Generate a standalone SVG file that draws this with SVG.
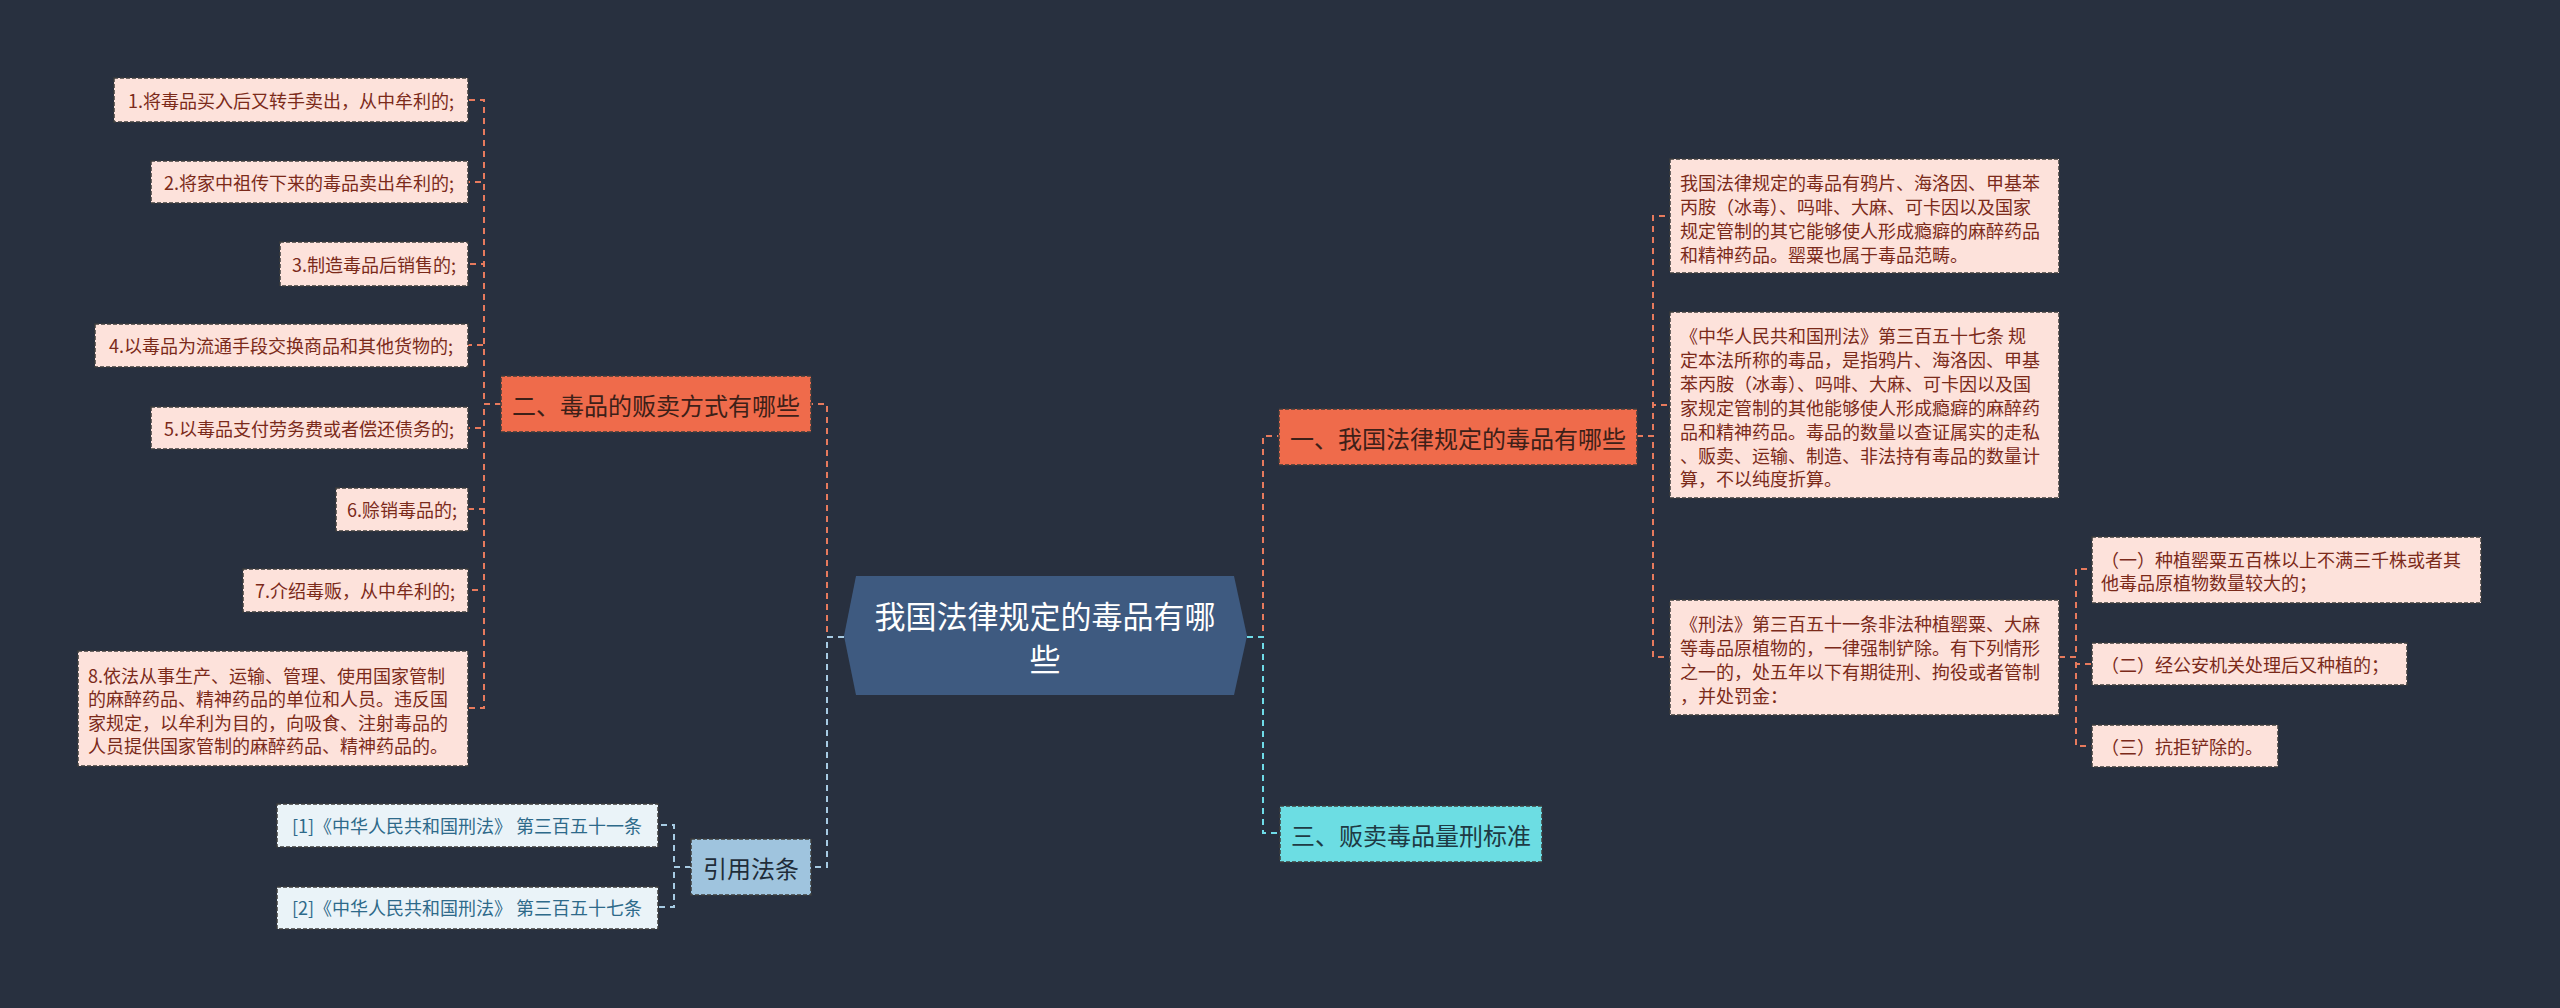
<svg xmlns="http://www.w3.org/2000/svg" width="2560" height="1008" viewBox="0 0 2560 1008">
<style>
text{font-family:"Noto Sans CJK SC","Noto Sans",sans-serif;dominant-baseline:central}
.leaf rect{fill:#fde2db;stroke:#3c3c3c;stroke-width:1.5;stroke-dasharray:4 2}
.leaf text{font-size:18px;fill:#7b2a1a}
.cit rect{fill:#eaf3f8;stroke:#3c3c3c;stroke-width:1.5;stroke-dasharray:4 2}
.cit text{font-size:18px;fill:#2e6a8a;text-anchor:middle}
.hub rect{stroke:#3c3c3c;stroke-width:1.5;stroke-dasharray:4 2}
.hub text{font-size:24px;text-anchor:middle}
.mid{text-anchor:middle}
.con path{fill:none;stroke-width:2;stroke-dasharray:6 5}
.o{stroke:#e77a5d}
.b{stroke:#a7cbe3}
.c{stroke:#6fdbe8}
</style>
<rect width="2560" height="1008" fill="#28303f"/>
<g id="connectors" class="con">
<path class="o" d="M844,637 H827 V404 H811"/>
<path class="b" d="M844,637 H827 V867 H811"/>
<path class="o" d="M501,404 H484 V100 H468"/>
<path class="o" d="M501,404 H484 V182 H468"/>
<path class="o" d="M501,404 H484 V264 H468"/>
<path class="o" d="M501,404 H484 V345 H468"/>
<path class="o" d="M501,404 H484 V428 H468"/>
<path class="o" d="M501,404 H484 V509 H468"/>
<path class="o" d="M501,404 H484 V590 H468"/>
<path class="o" d="M501,404 H484 V708 H468"/>
<path class="b" d="M691,867 H674 V825 H658"/>
<path class="b" d="M691,867 H674 V907 H658"/>
<path class="o" d="M1247,637 H1263 V436 H1279"/>
<path class="c" d="M1247,637 H1263 V833 H1280"/>
<path class="o" d="M1637,436 H1653 V216 H1670"/>
<path class="o" d="M1637,436 H1653 V405 H1670"/>
<path class="o" d="M1637,436 H1653 V657 H1670"/>
<path class="o" d="M2059,657 H2076 V569 H2092"/>
<path class="o" d="M2059,657 H2076 V664 H2092"/>
<path class="o" d="M2059,657 H2076 V746 H2092"/>
</g>
<g id="center">
<polygon points="856,576 1234,576 1247,636 1234,695 856,695 844,636" fill="#3e5a80"/>
<text class="mid" x="1045" y="614" font-size="31" fill="#ffffff">我国法律规定的毒品有哪</text>
<text class="mid" x="1045" y="657" font-size="31" fill="#ffffff">些</text>
</g>
<g id="hub2" class="hub"><rect x="501" y="376" width="310" height="56" fill="#ef6b4b"/><text x="656" y="404" fill="#3d2018">二、毒品的贩卖方式有哪些</text></g>
<g id="hub1" class="hub"><rect x="1279" y="409" width="358" height="56" fill="#ef6b4b"/><text x="1458" y="437" fill="#3d2018">一、我国法律规定的毒品有哪些</text></g>
<g id="hub3" class="hub"><rect x="1280" y="806" width="262" height="56" fill="#6cdde3"/><text x="1411" y="834" fill="#1e3a44">三、贩卖毒品量刑标准</text></g>
<g id="hubref" class="hub"><rect x="691" y="839" width="120" height="56" fill="#9fc4de"/><text x="751" y="867" fill="#1f2d3a">引用法条</text></g>
<g id="l1" class="leaf"><rect x="114" y="78" width="354" height="44"/><text class="mid" x="291" y="100">1.将毒品买入后又转手卖出，从中牟利的;</text></g>
<g id="l2" class="leaf"><rect x="151" y="161" width="317" height="42"/><text class="mid" x="309" y="182">2.将家中祖传下来的毒品卖出牟利的;</text></g>
<g id="l3" class="leaf"><rect x="280" y="242" width="188" height="44"/><text class="mid" x="374" y="264">3.制造毒品后销售的;</text></g>
<g id="l4" class="leaf"><rect x="95" y="324" width="373" height="43"/><text class="mid" x="281" y="345">4.以毒品为流通手段交换商品和其他货物的;</text></g>
<g id="l5" class="leaf"><rect x="151" y="407" width="317" height="42"/><text class="mid" x="309" y="428">5.以毒品支付劳务费或者偿还债务的;</text></g>
<g id="l6" class="leaf"><rect x="336" y="488" width="132" height="43"/><text class="mid" x="402" y="509">6.赊销毒品的;</text></g>
<g id="l7" class="leaf"><rect x="243" y="569" width="225" height="43"/><text class="mid" x="355" y="590">7.介绍毒贩，从中牟利的;</text></g>
<g id="l8" class="leaf"><rect x="78" y="651" width="390" height="115"/>
<text x="88" y="675">8.依法从事生产、运输、管理、使用国家管制</text>
<text x="88" y="698">的麻醉药品、精神药品的单位和人员。违反国</text>
<text x="88" y="722">家规定，以牟利为目的，向吸食、注射毒品的</text>
<text x="88" y="745">人员提供国家管制的麻醉药品、精神药品的。</text></g>
<g id="c1" class="cit"><rect x="277" y="804" width="381" height="43"/><text x="467" y="825">[1]《中华人民共和国刑法》 第三百五十一条</text></g>
<g id="c2" class="cit"><rect x="277" y="887" width="381" height="42"/><text x="467" y="907">[2]《中华人民共和国刑法》 第三百五十七条</text></g>
<g id="r1" class="leaf"><rect x="1670" y="159" width="389" height="114"/>
<text x="1680" y="182">我国法律规定的毒品有鸦片、海洛因、甲基苯</text>
<text x="1680" y="206">丙胺（冰毒）、吗啡、大麻、可卡因以及国家</text>
<text x="1680" y="230">规定管制的其它能够使人形成瘾癖的麻醉药品</text>
<text x="1680" y="254">和精神药品。罂粟也属于毒品范畴。</text></g>
<g id="r2" class="leaf"><rect x="1670" y="312" width="389" height="186"/>
<text x="1680" y="335">《中华人民共和国刑法》第三百五十七条 规</text>
<text x="1680" y="359">定本法所称的毒品，是指鸦片、海洛因、甲基</text>
<text x="1680" y="383">苯丙胺（冰毒）、吗啡、大麻、可卡因以及国</text>
<text x="1680" y="407">家规定管制的其他能够使人形成瘾癖的麻醉药</text>
<text x="1680" y="431">品和精神药品。毒品的数量以查证属实的走私</text>
<text x="1680" y="455">、贩卖、运输、制造、非法持有毒品的数量计</text>
<text x="1680" y="478">算，不以纯度折算。</text></g>
<g id="r3" class="leaf"><rect x="1670" y="600" width="389" height="115"/>
<text x="1680" y="623">《刑法》第三百五十一条非法种植罂粟、大麻</text>
<text x="1680" y="647">等毒品原植物的，一律强制铲除。有下列情形</text>
<text x="1680" y="671">之一的，处五年以下有期徒刑、拘役或者管制</text>
<text x="1680" y="695">，并处罚金：</text></g>
<g id="s1" class="leaf"><rect x="2092" y="537" width="389" height="66"/>
<text x="2101" y="559">（一）种植罂粟五百株以上不满三千株或者其</text>
<text x="2101" y="582">他毒品原植物数量较大的；</text></g>
<g id="s2" class="leaf"><rect x="2092" y="643" width="315" height="42"/><text x="2101" y="664">（二）经公安机关处理后又种植的；</text></g>
<g id="s3" class="leaf"><rect x="2092" y="725" width="186" height="42"/><text x="2101" y="746">（三）抗拒铲除的。</text></g>
</svg>
